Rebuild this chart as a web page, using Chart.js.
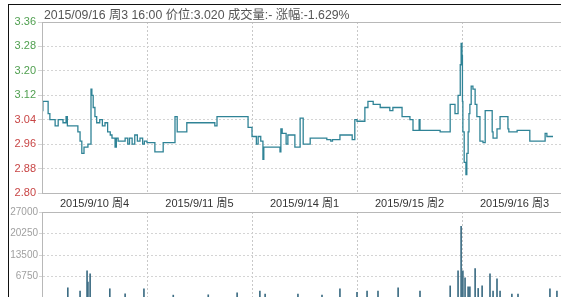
<!DOCTYPE html>
<html>
<head>
<meta charset="utf-8">
<script src="https://cdn.jsdelivr.net/npm/chart.js@4/dist/chart.umd.min.js"></script>
<style>
    html, body { margin: 0; padding: 0; background: #fff; overflow: hidden; width: 561px; height: 297px; }
    #frame { position: absolute; left: 8px; top: 4px; width: 600px; height: 400px; border-left: 1px solid #111; border-top: 1px solid #111; }
    #title { position: absolute; left: 44px; top: 5px; font: 12.3px "Liberation Sans", "Noto Sans CJK SC", sans-serif; color: #555; white-space: nowrap; }
    canvas { position: absolute; left: 0; }
    #priceChart { top: 0; }
    #volChart { top: 205px; }
</style>
</head>
<body>
<div id="frame"></div>
<canvas id="priceChart" width="575" height="212"></canvas>
<canvas id="volChart" width="575" height="100"></canvas>
<div id="title">2015/09/16 周3 16:00 价位:3.020 成交量:- 涨幅:-1.629%</div>
<script>
// --- Dados (minutos desde a abertura do primeiro dia, 240 por dia) ---
const dayLabels = ['2015/9/10 周4', '2015/9/11 周5', '2015/9/14 周1', '2015/9/15 周2', '2015/9/16 周3'];
const prevClose = 3.08;

const priceTime = [
    0, 2, 14, 18, 30, 37, 48, 55, 58, 82, 87, 91, 96, 105, 112, 114, 117, 121, 125, 132, 138, 144, 150, 156, 160, 167, 170, 174, 190, 196, 200, 206, 212, 218, 224, 230, 234,
    240, 258, 277, 304, 309, 331, 395, 400, 471,
    480, 490, 494, 500, 505, 507, 544, 546, 549, 558, 562, 578, 590, 597, 613, 651, 660, 664, 681, 709, 715,
    720, 738, 745, 757, 773, 795, 802, 823, 841, 848, 862, 864, 910, 933, 944, 951, 956, 958,
    960, 961, 962, 965, 969, 971, 974, 976, 978, 981, 985, 990, 994, 1001, 1008, 1013, 1029, 1031, 1040, 1047, 1065, 1067, 1086, 1115, 1150, 1154, 1168, 1200
];
const priceValue = [
    3.07, 3.10, 3.06, 3.04, 3.02, 3.04, 3.03, 3.05, 3.02, 3.00, 2.97, 2.93, 2.95, 2.96, 3.14, 3.12, 3.08, 3.05, 3.03, 3.04, 3.02, 3.03, 3.00, 2.99, 2.98, 2.95, 2.98, 2.97, 2.98, 2.96, 2.98, 2.96, 2.99, 2.97, 2.98, 2.96, 2.97,
    2.965, 2.935, 2.965, 3.05, 3.00, 3.03, 3.02, 3.05, 3.015,
    2.985, 2.96, 2.985, 2.97, 2.91, 2.95, 2.935, 3.01, 2.995, 2.96, 2.99, 2.95, 3.045, 2.96, 2.98, 2.975, 2.97, 2.975, 2.99, 2.975, 3.04,
    3.035, 3.08, 3.10, 3.09, 3.08, 3.07, 3.08, 3.05, 3.04, 3.005, 3.04, 3.005, 3.00, 3.09, 3.06, 3.12, 3.22, 3.29,
    3.25, 3.10, 3.00, 2.90, 2.86, 2.93, 3.00, 3.06, 3.09, 3.15, 3.14, 3.09, 3.05, 2.97, 2.965, 3.07, 3.00, 2.98, 3.01, 3.05, 3.01, 3.00, 3.005, 2.97, 2.995, 2.985, 2.985
];

const volTime = [
    59, 87, 103, 105, 110, 155, 190, 233,
    300, 380, 446,
    498, 510, 585, 640, 681,
    720, 743, 768, 814, 864, 933, 951, 958,
    962, 967, 974, 978, 990, 997, 1006, 1024, 1031, 1040, 1047, 1074, 1088, 1161, 1177
];
const volValue = [
    3200, 2200, 8500, 5000, 7600, 2900, 1300, 2900,
    900, 1000, 1600,
    2200, 1200, 1200, 900, 2900,
    1800, 2200, 2200, 3200, 2200, 3800, 8500, 22500,
    8500, 6300, 3500, 3500, 9200, 3000, 3800, 7600, 2200, 6000, 2200, 1200, 1200, 2900, 2200
];

const fontFam = '"Liberation Sans", "Noto Sans CJK SC", sans-serif';

// --- Moldura da área do gráfico ---
const areaBox = {
    id: 'areaBox',
    afterDraw(chart) {
        const { ctx, chartArea: a } = chart;
        ctx.save();
        ctx.strokeStyle = '#b8b8b8';
        ctx.lineWidth = 1;
        ctx.strokeRect(a.left + 0.5, a.top + 0.5, a.right - a.left, a.bottom - a.top);
        ctx.restore();
    }
};

const dayGrid = (c) => {
    const v = c.tick && c.tick.value;
    return (v % 240 === 0 && v > 0 && v < 1200) ? '#c8c8c8' : 'rgba(0,0,0,0)';
};
const dayTicks = (scale) => {
    scale.ticks = [0, 120, 240, 360, 480, 600, 720, 840, 960, 1080, 1200].map(v => ({ value: v }));
};

// --- Gráfico de preço ---
new Chart(document.getElementById('priceChart'), {
    type: 'line',
    data: {
        datasets: [{
            data: priceTime.map((t, i) => ({ x: t, y: priceValue[i] })),
            borderColor: '#2f8396',
            borderWidth: 1.3,
            pointRadius: 0,
            stepped: true,
            fill: false
        }]
    },
    options: {
        responsive: false,
        animation: false,
        layout: { padding: { left: 8, top: 22, right: 8, bottom: 0 } },
        plugins: { legend: { display: false }, tooltip: { enabled: false } },
        scales: {
            x: {
                type: 'linear', min: 0, max: 1200,
                afterBuildTicks: dayTicks,
                afterFit: (s) => { s.height = 19; },
                grid: { color: dayGrid, drawTicks: false },
                border: { display: false, dash: [2, 2] },
                ticks: {
                    autoSkip: false, maxRotation: 0, padding: 4,
                    color: '#333', font: { family: fontFam, size: 11 },
                    callback: (v) => (v % 240 === 120 ? dayLabels[Math.floor(v / 240)] : '')
                }
            },
            y: {
                min: 2.80, max: 3.36,
                afterFit: (s) => { s.width = 34; },
                grid: { color: '#d4d4d4', tickLength: 4 },
                border: { color: '#b8b8b8', dash: [2, 2] },
                ticks: {
                    stepSize: 0.08, padding: 2,
                    font: { family: fontFam, size: 11 },
                    color: (c) => (c.tick.value > prevClose + 0.001 ? '#4f9f4f' : '#c84545'),
                    callback: (v) => v.toFixed(2)
                }
            }
        }
    },
    plugins: [areaBox]
});

// --- Gráfico de volume ---
new Chart(document.getElementById('volChart'), {
    type: 'bar',
    data: {
        datasets: [{
            data: volTime.map((t, i) => ({ x: t, y: volValue[i] })),
            backgroundColor: '#3d6d84',
            barThickness: 1
        }]
    },
    options: {
        responsive: false,
        animation: false,
        layout: { padding: { left: 8, top: 7, right: 8, bottom: 0 } },
        plugins: { legend: { display: false }, tooltip: { enabled: false } },
        scales: {
            x: {
                type: 'linear', min: 0, max: 1200, offset: false,
                afterBuildTicks: dayTicks,
                afterFit: (s) => { s.height = 0; },
                grid: { color: dayGrid, drawTicks: false, offset: false },
                border: { display: false, dash: [2, 2] },
                ticks: { display: false }
            },
            y: {
                min: 0, max: 27000,
                afterFit: (s) => { s.width = 34; },
                grid: { color: '#d4d4d4', tickLength: 3 },
                border: { color: '#b8b8b8', dash: [2, 2] },
                ticks: {
                    stepSize: 6750, padding: 1, autoSkip: false,
                    color: '#a0a0a0', font: { family: fontFam, size: 10 },
                    callback: (v) => (v === 0 ? '' : String(v))
                }
            }
        }
    },
    plugins: [areaBox]
});
</script>
</body>
</html>
